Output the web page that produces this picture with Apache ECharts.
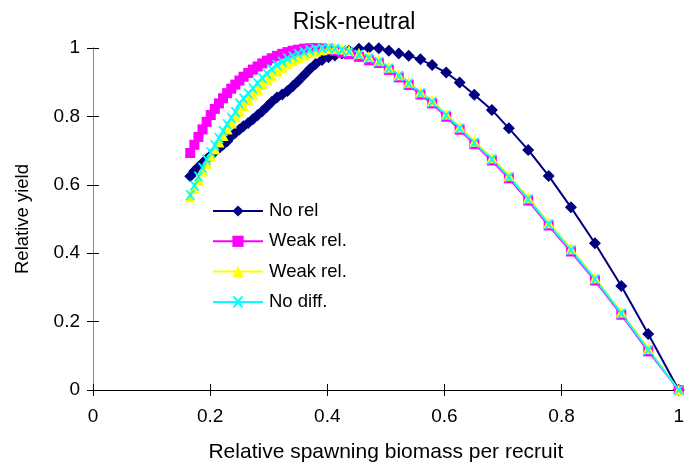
<!DOCTYPE html>
<html>
<head>
<meta charset="utf-8">
<script src="https://cdn.jsdelivr.net/npm/echarts@6/dist/echarts.min.js"></script>
<style>html,body{margin:0;padding:0;background:#fff}#c{width:687px;height:470px}</style>
</head>
<body>
<div id="c"></div>
<script>
// Relative spawning biomass per recruit (shared sample positions)
var xValues = [0.166,0.173,0.180,0.187,0.194,0.201,0.208,0.215,0.222,0.229,0.236,0.243,0.250,0.257,0.265,0.273,0.281,0.289,0.297,0.305,0.314,0.323,0.332,0.341,0.350,0.360,0.370,0.380,0.391,0.402,0.413,0.425,0.437,0.454,0.471,0.488,0.505,0.522,0.539,0.559,0.579,0.603,0.626,0.651,0.681,0.710,0.743,0.778,0.816,0.857,0.902,0.948,1.0];
// Relative yield
var noRel = [0.625,0.640,0.652,0.664,0.675,0.686,0.697,0.707,0.717,0.727,0.742,0.752,0.762,0.771,0.781,0.792,0.803,0.815,0.828,0.842,0.855,0.864,0.874,0.888,0.903,0.920,0.938,0.953,0.965,0.973,0.978,0.984,0.992,0.998,1.0,0.999,0.992,0.984,0.977,0.967,0.950,0.928,0.899,0.863,0.819,0.765,0.702,0.626,0.534,0.429,0.304,0.164,0.0];
var weakRelA = [0.693,0.717,0.740,0.762,0.784,0.804,0.822,0.838,0.853,0.868,0.881,0.893,0.905,0.916,0.927,0.937,0.946,0.955,0.963,0.970,0.977,0.983,0.988,0.992,0.995,0.998,0.999,1.0,0.999,0.996,0.992,0.987,0.982,0.974,0.964,0.956,0.936,0.914,0.892,0.864,0.838,0.799,0.761,0.719,0.671,0.619,0.554,0.481,0.405,0.320,0.220,0.113,0.0];
var weakRelB = [0.565,0.590,0.615,0.640,0.662,0.684,0.705,0.725,0.744,0.763,0.781,0.798,0.815,0.831,0.848,0.863,0.878,0.893,0.906,0.919,0.932,0.944,0.954,0.963,0.971,0.979,0.986,0.991,0.995,0.998,0.999,0.997,0.993,0.985,0.975,0.964,0.944,0.922,0.900,0.872,0.846,0.807,0.769,0.727,0.679,0.627,0.562,0.489,0.413,0.328,0.228,0.121,0.0];
var noDiff = [0.570,0.598,0.624,0.650,0.673,0.695,0.716,0.737,0.757,0.777,0.796,0.813,0.838,0.852,0.867,0.882,0.897,0.912,0.925,0.938,0.950,0.960,0.969,0.976,0.983,0.989,0.994,0.997,0.999,1.0,0.998,0.994,0.989,0.980,0.970,0.960,0.940,0.918,0.896,0.868,0.842,0.803,0.765,0.723,0.675,0.623,0.558,0.485,0.409,0.324,0.224,0.117,0.0];
// Legend labels (two series share the same label text)
var legendLabels = ['No rel','Weak rel.','Weak rel.','No diff.'];
var seriesKeys = ['No rel#0','Weak rel.#1','Weak rel.#2','No diff.#3'];
var xTicks = [0,0.2,0.4,0.6,0.8,1];

function pairs(ys){ return xValues.map(function(x,i){ return [x, ys[i]]; }); }

var FONT = '"Liberation Sans", Arial, sans-serif';
var crossPath = 'path://M0,0 L2,0 L5,3.2 L8,0 L10,0 L6.2,5 L10,10 L8,10 L5,6.8 L2,10 L0,10 L3.8,5 Z';

var chart = echarts.init(document.getElementById('c'), null, {renderer:'canvas'});

function mkSeries(name, ys, color, symbol, size){
  return {
    name: name, type: 'line', data: pairs(ys), xAxisIndex: 0, yAxisIndex: 0,
    symbol: symbol, symbolSize: size, showAllSymbol: true, clip: false,
    lineStyle: {color: color, width: 2},
    itemStyle: {color: color, borderWidth: 0},
    emphasis: {disabled: true}, animation: false
  };
}

var baseX = {
  type: 'value', min: 0, max: 1, interval: 0.2, position: 'bottom',
  splitLine: {show: false},
  axisLine: {show: true, onZero: false, lineStyle: {color: '#000', width: 1}},
  axisTick: {show: true, length: 6, lineStyle: {color: '#000'}},
};
var baseY = {
  type: 'value', min: 0, max: 1, interval: 0.2, position: 'left',
  splitLine: {show: false},
  axisLine: {show: true, onZero: false, lineStyle: {color: '#888', width: 1}},
  axisTick: {show: true, length: 6, lineStyle: {color: '#000'}},
};

chart.setOption({
  animation: false,
  backgroundColor: '#fff',
  title: {
    text: 'Risk-neutral', left: 349, textAlign: 'center', top: 6,
    textStyle: {fontFamily: FONT, fontSize: 23, fontWeight: 'normal', color: '#000'}
  },
  grid: {left: 93, right: 6, top: 48, bottom: 80, containLabel: false},
  legend: {
    orient: 'vertical', left: 212, top: 201, padding: 0,
    itemWidth: 50, itemHeight: 14, itemGap: 10.3,
    data: seriesKeys.map(function(k){ return {name: k}; }),
    formatter: function(name){ return legendLabels[seriesKeys.indexOf(name)]; },
    textStyle: {fontFamily: FONT, fontSize: 18.5, lineHeight: 20, color: '#000', padding: [0,0,0,1]},
    selectedMode: false
  },
  xAxis: [
    Object.assign({}, baseX, {
      name: 'Relative spawning biomass per recruit', nameLocation: 'middle', nameGap: 52,
      nameTextStyle: {fontFamily: FONT, fontSize: 21, color: '#000'},
      axisLabel: {fontFamily: FONT, fontSize: 19, color: '#000', margin: 17,
        formatter: function(v){ return xTicks.indexOf(+v.toFixed(1)) >= 0 ? String(+v.toFixed(1)) : ''; }}
    }),
    Object.assign({}, baseX, {axisLabel: {show: false}, axisTick: {show: true, inside: true, length: 6, lineStyle: {color: '#000'}}})
  ],
  yAxis: [
    Object.assign({}, baseY, {
      name: 'Relative yield', nameLocation: 'middle', nameGap: 61, nameRotate: 90,
      nameTextStyle: {fontFamily: FONT, fontSize: 18.5, color: '#000'},
      axisLabel: {fontFamily: FONT, fontSize: 19, color: '#000', margin: 13}
    }),
    Object.assign({}, baseY, {axisLabel: {show: false}, axisTick: {show: true, inside: true, length: 6, lineStyle: {color: '#000'}}})
  ],
  series: [
    mkSeries(seriesKeys[0], noRel, '#000080', 'diamond', 12),
    mkSeries(seriesKeys[1], weakRelA, '#FF00FF', 'rect', 10),
    mkSeries(seriesKeys[2], weakRelB, '#FFFF00', 'triangle', 11),
    mkSeries(seriesKeys[3], noDiff, '#00FFFF', crossPath, 10)
  ]
});
</script>
</body>
</html>
